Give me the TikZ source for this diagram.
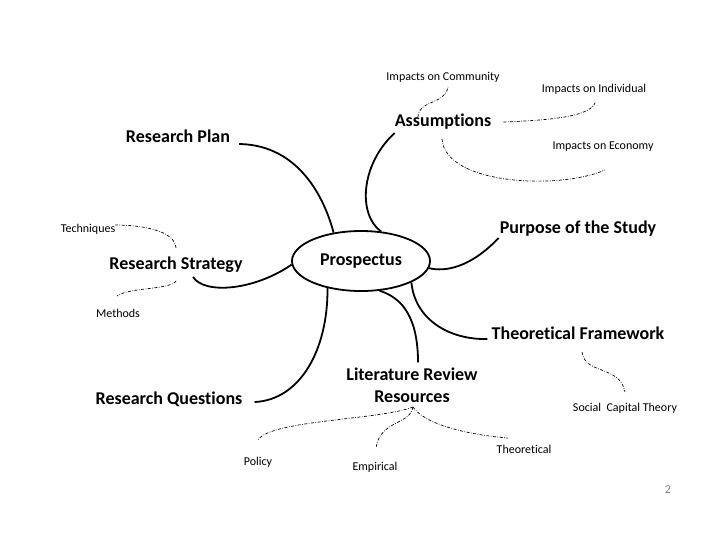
\documentclass[tikz,border=0pt]{standalone}
\usepackage{fontspec}
\setmainfont{Carlito}[Ligatures=NoCommon]
\usetikzlibrary{calc,shapes.geometric}
\begin{document}
\begin{tikzpicture}[x=1pt,y=-1pt,
  big/.style={font=\bfseries\fontsize{18}{22}\selectfont, inner sep=0pt},
  small/.style={font=\fontsize{12}{14}\selectfont, inner sep=0pt},
  branch/.style={line width=1.8pt},
  sub/.style={line width=0.7pt, dash pattern=on 3pt off 1.5pt on 0.7pt off 1.5pt}]
\useasboundingbox[fill=white] (0,0) rectangle (728,546);
\node[draw, ellipse, line width=1.8pt, minimum width=138pt, minimum height=60pt, inner sep=0pt,
  font=\bfseries\fontsize{18}{22}\selectfont] (pros) at (361,261) {Prospectus};
\node[small] (comm) at (443,77) {Impacts on Community};
\node[small] (indiv) at (594,89) {Impacts on Individual};
\node[big] (assum) at (443,122) {Assumptions};
\node[small] (econ) at (603,147) {Impacts on Economy};
\node[big] (rplan) at (178,136) {Research Plan};
\node[small] (tech) at (88,229) {Techniques};
\node[big] (purpose) at (578,229) {Purpose of the Study};
\node[big] (rstrat) at (176,265) {Research Strategy};
\node[small] (methods) at (118,313) {Methods};
\node[big] (theofw) at (578,333) {Theoretical Framework};
\node[big, align=center] (lit) at (412,385) {Literature Review\\Resources};
\node[big] (rq) at (169,399) {Research Questions};
\node[small] (sct) at (625,408) {Social~ Capital Theory};
\node[small] (theo) at (524,449) {Theoretical};
\node[small] (policy) at (258,462) {Policy};
\node[small] (emp) at (375,467) {Empirical};
\node[small, text=gray] (pnum) at (668,490) {2};
% main branches
\draw[branch] ($(rplan.east)+(9,8)$) .. controls (300,145) and (325,200) .. (pros.134);
\draw[branch] ($(assum.west)+(0,11)$) .. controls (360,165) and (358,215) .. (pros.56);
\draw[branch] ($(purpose.west)+(-1,9)$) .. controls (470,268) and (445,272) .. (pros.-6);
\draw[branch] (pros.-23) .. controls (415,320) and (450,340) .. ($(theofw.west)+(-4,6)$);
\draw[branch] (pros.-58) .. controls (410,300) and (418,330) .. ($(lit.north)+(6,-5)$);
\draw[branch] (pros.219) .. controls (328,350) and (300,400) .. ($(rq.east)+(12,3)$);
\draw[branch] ($(rstrat)+(17,12)$) .. controls (205,295) and (255,290) .. (pros.183);
% sub branches
\draw[sub] ($(assum)+(-25,-5)$) .. controls (418,100) and (445,105) .. ($(comm)+(5,10)$);
\draw[sub] ($(assum.east)+(12,0)$) .. controls (560,120) and (590,115) .. ($(indiv)+(1,14)$);
\draw[sub] ($(assum)+(-1,17)$) .. controls (445,185) and (560,190) .. ($(econ)+(2,23)$);
\draw[sub] ($(rstrat)+(0,-17)$) .. controls (175,230) and (140,225) .. ($(tech.east)+(0,-4)$);
\draw[sub] ($(rstrat)+(0,16)$) .. controls (170,290) and (130,287) .. ($(methods)+(-1,-17)$);
\draw[sub] ($(lit)+(1,22)$) .. controls (380,420) and (270,420) .. ($(policy)+(0,-22)$);
\draw[sub] ($(lit)+(1,22)$) .. controls (410,425) and (380,420) .. ($(emp)+(1,-19)$);
\draw[sub] ($(lit)+(1,22)$) .. controls (425,425) and (470,435) .. ($(theo)+(-16,-11)$);
\draw[sub] ($(theofw)+(4,19)$) .. controls (585,375) and (620,365) .. ($(sct)+(0,-16)$);
\end{tikzpicture}
\end{document}
